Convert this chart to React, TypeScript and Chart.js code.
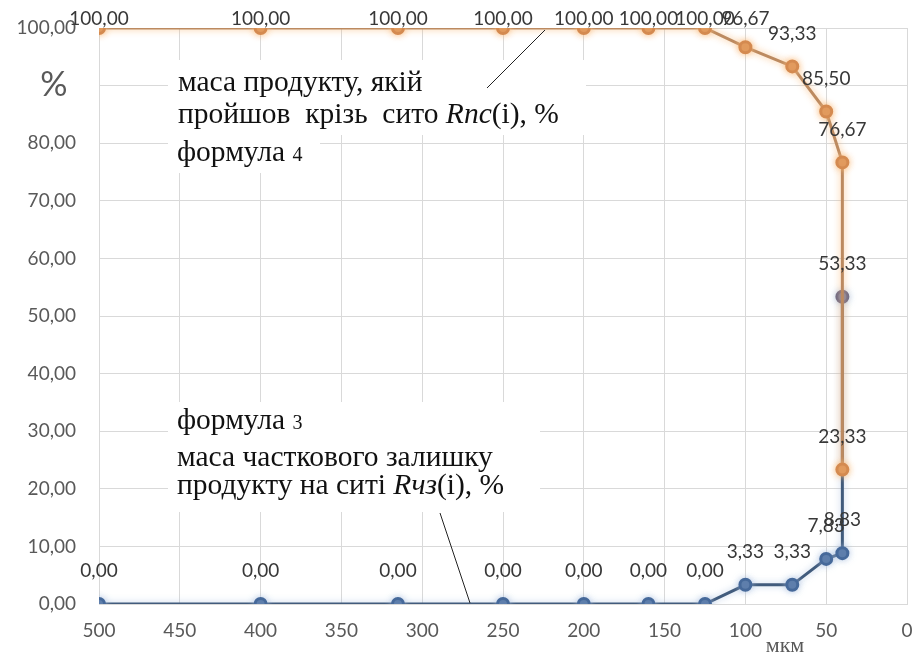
import { useEffect, useRef } from 'react';
import { Chart, registerables } from 'chart.js';
Chart.register(...registerables);

// ---- data ----
const sieveSizes = [500, 400, 315, 250, 200, 160, 125, 100, 71, 50, 40, 40];
const passedPercent = [100, 100, 100, 100, 100, 100, 100, 96.67, 93.33, 85.5, 76.67, 23.33];
const residuePercent = [0, 0, 0, 0, 0, 0, 0, 3.33, 3.33, 7.83, 8.83, 53.33];
const xTickValues = [500, 450, 400, 350, 300, 250, 200, 150, 100, 50, 0];
const yTickValues = [0, 10, 20, 30, 40, 50, 60, 70, 80, 90, 100];

const fmt = (v: number) => v.toFixed(2).replace('.', ',');

const SERIF = "'Liberation Serif', 'DejaVu Serif', serif";
const SANS = "Lato, 'Noto Sans', sans-serif";

function drawRich(ctx: CanvasRenderingContext2D, x: number, y: number, segs: [string, string][]) {
  let cx = x;
  for (const [t, f] of segs) {
    ctx.font = f;
    ctx.fillText(t, cx, y);
    cx += ctx.measureText(t).width;
  }
}

const glowPlugin = {
  id: 'glow',
  beforeDatasetDraw(chart: any, args: any) {
    const ds = chart.data.datasets[args.index];
    const ctx = chart.ctx;
    ctx.save();
    ctx.shadowColor = ds.glowColor;
    ctx.shadowBlur = 7;
  },
  afterDatasetDraw(chart: any) {
    chart.ctx.restore();
  },
};

const annotPlugin = {
  id: 'annot',
  beforeDatasetsDraw(chart: any) {
    const ctx = chart.ctx;
    ctx.save();
    ctx.fillStyle = '#ffffff';
    ctx.fillRect(168, 60, 418, 75);
    ctx.fillRect(168, 135, 152, 38);
    ctx.fillRect(168, 402, 372, 110);
    // white patch behind the "%" axis title (hides the 90 label)
    ctx.fillRect(4, 66, 92, 38);
    ctx.restore();
  },
  afterDatasetsDraw(chart: any) {
    const ctx = chart.ctx;
    ctx.save();
    // data labels
    ctx.font = `19px ${SANS}`;
    ctx.fillStyle = '#383838';
    ctx.textAlign = 'center';
    ctx.textBaseline = 'middle';
    for (let d = chart.data.datasets.length - 1; d >= 0; d--) {
      const meta = chart.getDatasetMeta(d);
      const vals = chart.data.datasets[d].data;
      meta.data.forEach((pt: any, i: number) => {
        const ly = Math.max(pt.y - 33, 19);
        ctx.fillText(fmt(vals[i].y), pt.x, ly);
      });
    }
    // annotation texts
    ctx.fillStyle = '#111111';
    ctx.textAlign = 'left';
    ctx.textBaseline = 'alphabetic';
    const n = `29.5px ${SERIF}`;
    const it = `italic 29.5px ${SERIF}`;
    const sm = `20px ${SERIF}`;
    drawRich(ctx, 178, 91, [['маса продукту, якій', n]]);
    drawRich(ctx, 178, 123, [['пройшов  крізь  сито ', n], ['Rпс', it], ['(і), %', n]]);
    drawRich(ctx, 177, 161, [['формула ', n], ['4', sm]]);
    drawRich(ctx, 177, 429, [['формула ', n], ['3', sm]]);
    drawRich(ctx, 177, 466, [['маса часткового залишку', n]]);
    drawRich(ctx, 177, 494, [['продукту на ситі ', n], ['Rчз', it], ['(і), %', n]]);
    // leader lines
    ctx.strokeStyle = '#222222';
    ctx.lineWidth = 1;
    ctx.beginPath();
    ctx.moveTo(487, 88);
    ctx.lineTo(545, 30);
    ctx.moveTo(440, 513);
    ctx.lineTo(470, 603);
    ctx.stroke();
    // axis titles
    ctx.fillStyle = '#595959';
    ctx.textAlign = 'center';
    ctx.textBaseline = 'middle';
    ctx.font = `34px ${SANS}`;
    ctx.fillText('%', 54, 85);
    ctx.font = `22px ${SERIF}`;
    ctx.fillText('мкм', 785, 646);
    ctx.restore();
  },
};

export default function App() {
  const ref = useRef<HTMLCanvasElement>(null);
  useEffect(() => {
    if (!ref.current) return;
    const chart = new Chart(ref.current, {
      type: 'scatter',
      data: {
        datasets: [
          {
            label: 'Rпс',
            data: sieveSizes.map((x, i) => ({ x, y: passedPercent[i] })),
            showLine: true,
            borderColor: '#BC8A60',
            backgroundColor: '#D48A50',
            pointBackgroundColor: '#D48A50',
            pointBorderColor: '#D48A50',
            pointRadius: 5.5,
            borderWidth: 3,
            tension: 0,
            glowColor: 'rgba(250,185,120,0.9)',
          } as any,
          {
            label: 'Rчз',
            data: sieveSizes.map((x, i) => ({ x, y: residuePercent[i] })),
            showLine: true,
            borderColor: '#415B7C',
            backgroundColor: '#46699A',
            pointBackgroundColor: residuePercent.map((_, i) => (i === residuePercent.length - 1 ? '#6A6886' : '#46699A')),
            pointBorderColor: residuePercent.map((_, i) => (i === residuePercent.length - 1 ? '#6A6886' : '#46699A')),
            pointRadius: 5.5,
            borderWidth: 3,
            tension: 0,
            glowColor: 'rgba(160,185,220,0.7)',
          } as any,
        ],
      },
      options: {
        animation: false,
        responsive: true,
        maintainAspectRatio: false,
        layout: { padding: { top: 28, right: 16, left: 0, bottom: 0 } },
        plugins: { legend: { display: false }, tooltip: { enabled: false } },
        scales: {
          x: {
            type: 'linear',
            reverse: true,
            min: 0,
            max: 500,
            afterBuildTicks: (s: any) => {
              s.ticks = xTickValues.map((v) => ({ value: v }));
            },
            afterFit: (s: any) => {
              s.height = 58;
              s.paddingLeft = 0;
              s.paddingRight = 0;
            },
            grid: { color: '#D9D9D9', drawTicks: false, lineWidth: 1 },
            border: { color: '#D9D9D9' },
            ticks: {
              padding: 15,
              color: '#595959',
              font: { family: 'Lato', size: 19 },
              maxRotation: 0,
              callback: (v: any) => String(v),
            },
          },
          y: {
            type: 'linear',
            min: 0,
            max: 100,
            afterBuildTicks: (s: any) => {
              s.ticks = yTickValues.map((v) => ({ value: v }));
            },
            afterFit: (s: any) => {
              s.width = 99;
              s.paddingTop = 0;
              s.paddingBottom = 0;
            },
            grid: { color: '#D9D9D9', drawTicks: false, lineWidth: 1 },
            border: { color: '#D9D9D9' },
            ticks: {
              padding: 23,
              color: '#595959',
              font: { family: 'Lato', size: 19 },
              callback: (v: any) => fmt(Number(v)),
            },
          },
        },
      },
      plugins: [glowPlugin, annotPlugin],
    });
    return () => chart.destroy();
  }, []);
  return (
    <div style={{ position: 'absolute', left: 0, top: 0, width: 923, height: 662, background: '#fff' }}>
      <canvas ref={ref} />
    </div>
  );
}
